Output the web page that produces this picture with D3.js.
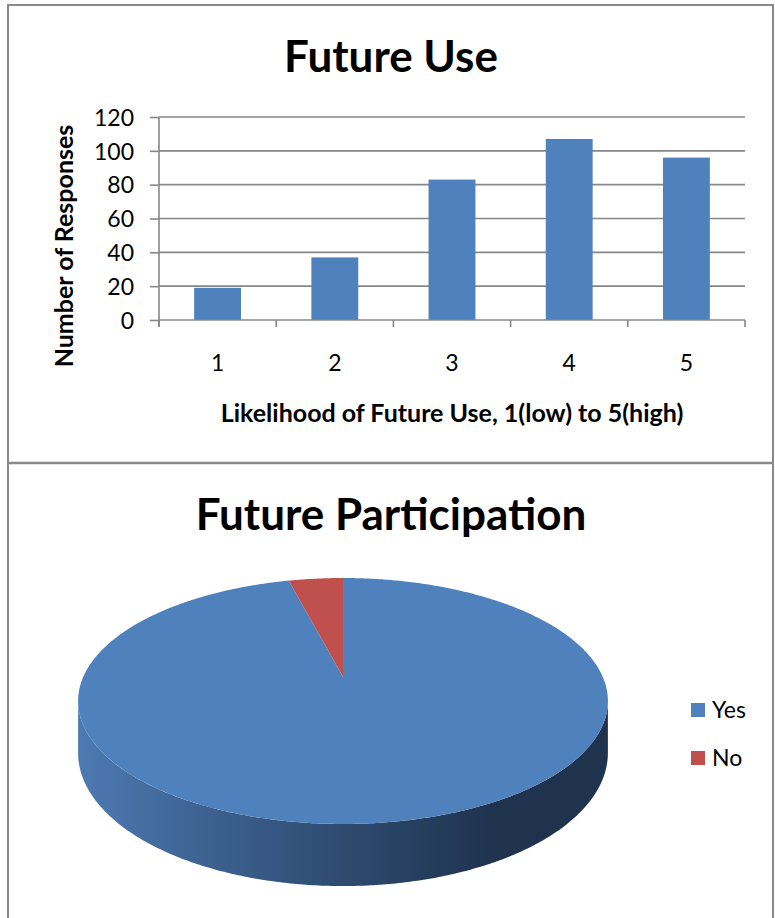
<!DOCTYPE html>
<html><head><meta charset="utf-8">
<script src="https://cdn.jsdelivr.net/npm/d3@7"></script>
<style>body{margin:0;background:#fff}svg{display:block}text{font-family:Lato,"Open Sans",sans-serif}</style>
</head><body>
<svg id="c" width="775" height="918"></svg>
<script>
// ---- data ----
const barTitle = "Future Use";
const categories = ["1", "2", "3", "4", "5"];
const responses = [19, 37, 83, 107, 96];
const yTicks = [0, 20, 40, 60, 80, 100, 120];
const xAxisTitle = "Likelihood of Future Use, 1(low) to 5(high)";
const yAxisTitle = "Number of Responses";
const pieTitle = "Future Participation";
const pieLabels = ["Yes", "No"];
const pieValues = [96, 4];
const pieColors = ["#4f81bd", "#c0504d"];

const svg = d3.select("#c");
const grid = "#878787";

// frame
svg.append("rect").attr("x", 8).attr("y", 5).attr("width", 765).attr("height", 930)
  .attr("fill", "none").attr("stroke", "#8a8a8a").attr("stroke-width", 2);
svg.append("line").attr("x1", 8).attr("x2", 773).attr("y1", 463).attr("y2", 463)
  .attr("stroke", "#8a8a8a").attr("stroke-width", 2.5);

// ---- bar chart ----
const x0 = 159, x1 = 745, yTop = 117, yBot = 320;
const x = d3.scaleBand().domain(categories).range([x0, x1]).paddingInner(0.6).paddingOuter(0.3);
const xb = d3.scaleBand().domain(categories).range([x0, x1]);
const y = d3.scaleLinear().domain([0, 120]).range([yBot, yTop]);

svg.append("text").attr("x", 391).attr("y", 72).attr("text-anchor", "middle")
  .attr("font-size", 44).attr("font-weight", "bold").text(barTitle);

// gridlines
svg.append("g").selectAll("line").data(yTicks.filter(d => d > 0)).join("line")
  .attr("x1", x0).attr("x2", x1).attr("y1", d => y(d)).attr("y2", d => y(d))
  .attr("stroke", grid).attr("stroke-width", 1.6);

// y axis
const gy = svg.append("g").attr("transform", `translate(${x0},0)`)
  .call(d3.axisLeft(y).tickValues(yTicks).tickSize(9).tickSizeOuter(0).tickPadding(16));
gy.select(".domain").attr("stroke", grid).attr("stroke-width", 1.6).attr("d", `M0,${yTop}V${yBot + 7}`);
gy.selectAll(".tick line").attr("stroke", grid).attr("stroke-width", 1.6);
gy.selectAll(".tick text").attr("font-size", 23).attr("fill", "#000").attr("dy", "0.36em")
  .style("font-family", "Lato,sans-serif");

// bars
svg.append("g").selectAll("rect").data(responses).join("rect")
  .attr("x", (d, i) => x(categories[i])).attr("width", x.bandwidth())
  .attr("y", d => y(d)).attr("height", d => yBot - y(d))
  .attr("fill", "#4f81bd");

// x axis
svg.append("line").attr("x1", x0).attr("x2", x1).attr("y1", yBot).attr("y2", yBot)
  .attr("stroke", grid).attr("stroke-width", 1.6);
const bounds = categories.map(c => xb(c)).concat([x1]);
svg.append("g").selectAll("line").data(bounds).join("line")
  .attr("x1", d => d).attr("x2", d => d).attr("y1", yBot).attr("y2", yBot + 7)
  .attr("stroke", grid).attr("stroke-width", 1.6);
const gx = svg.append("g").attr("transform", `translate(0,${yBot})`)
  .call(d3.axisBottom(xb).tickSize(0).tickPadding(0));
gx.select(".domain").remove();
gx.selectAll(".tick text").attr("font-size", 23).attr("fill", "#000").attr("y", 51).attr("dy", 0)
  .style("font-family", "Lato,sans-serif");

svg.append("text").attr("x", (x0 + x1) / 2).attr("y", 422).attr("text-anchor", "middle")
  .attr("font-size", 25).attr("font-weight", "bold").text(xAxisTitle);
svg.append("text").attr("transform", "translate(73,246) rotate(-90)").attr("text-anchor", "middle")
  .attr("font-size", 25).attr("font-weight", "bold").text(yAxisTitle);

// ---- 3D pie ----
svg.append("text").attr("x", 391).attr("y", 530).attr("text-anchor", "middle")
  .attr("font-size", 44).attr("font-weight", "bold").text(pieTitle);

const cx = 343, cy = 677, F = 259.8, G = 118.3, s = 0.195, H = 50;
function proj(theta, r) {
  const u = r * Math.sin(theta), v = -r * Math.cos(theta);
  const k = 1 / (1 - s * v);
  return [cx + F * u * k, cy + G * v * k];
}
function projB(theta) {
  const v = -Math.cos(theta);
  const p = proj(theta, 1);
  return [p[0], p[1] + H / (1 - s * v)];
}
function arcPts(a0, a1, fn) {
  const n = Math.max(2, Math.ceil(Math.abs(a1 - a0) / 0.01));
  return d3.range(n + 1).map(i => fn(a0 + (a1 - a0) * i / n));
}
const defs = svg.append("defs");
const grad = defs.append("linearGradient").attr("id", "side").attr("gradientUnits", "userSpaceOnUse")
  .attr("x1", 80).attr("x2", 606).attr("y1", 0).attr("y2", 0);
[[0, "#4d79b2"], [0.25, "#3c6190"], [0.5, "#2e4b70"], [0.78, "#1f334f"], [1, "#1f334f"]]
  .forEach(([o, c]) => grad.append("stop").attr("offset", o).attr("stop-color", c));

const arcs = d3.pie().sort(null)(pieValues);
const line = d3.line();
// side (front silhouette)
const sa0 = Math.acos(-s), sa1 = 2 * Math.PI - Math.acos(-s);
const sideTop = arcPts(sa0, sa1, t => proj(t, 1));
const sideBot = arcPts(sa1, sa0, projB);
svg.append("path").attr("d", line(sideTop.concat(sideBot)) + "Z").attr("fill", "url(#side)");
// top faces
svg.append("g").selectAll("path").data(arcs).join("path")
  .attr("d", a => line([proj(0, 0)].concat(arcPts(a.startAngle, a.endAngle, t => proj(t, 1)))) + "Z")
  .attr("fill", (a, i) => pieColors[i]);

// legend
const lg = svg.append("g").selectAll("g").data(pieLabels).join("g")
  .attr("transform", (d, i) => `translate(691,${703 + i * 48})`);
lg.append("rect").attr("width", 14).attr("height", 14).attr("fill", (d, i) => pieColors[i]);
lg.append("text").attr("x", 21).attr("y", 15).attr("font-size", 23).text(d => d);
</script>
</body></html>
